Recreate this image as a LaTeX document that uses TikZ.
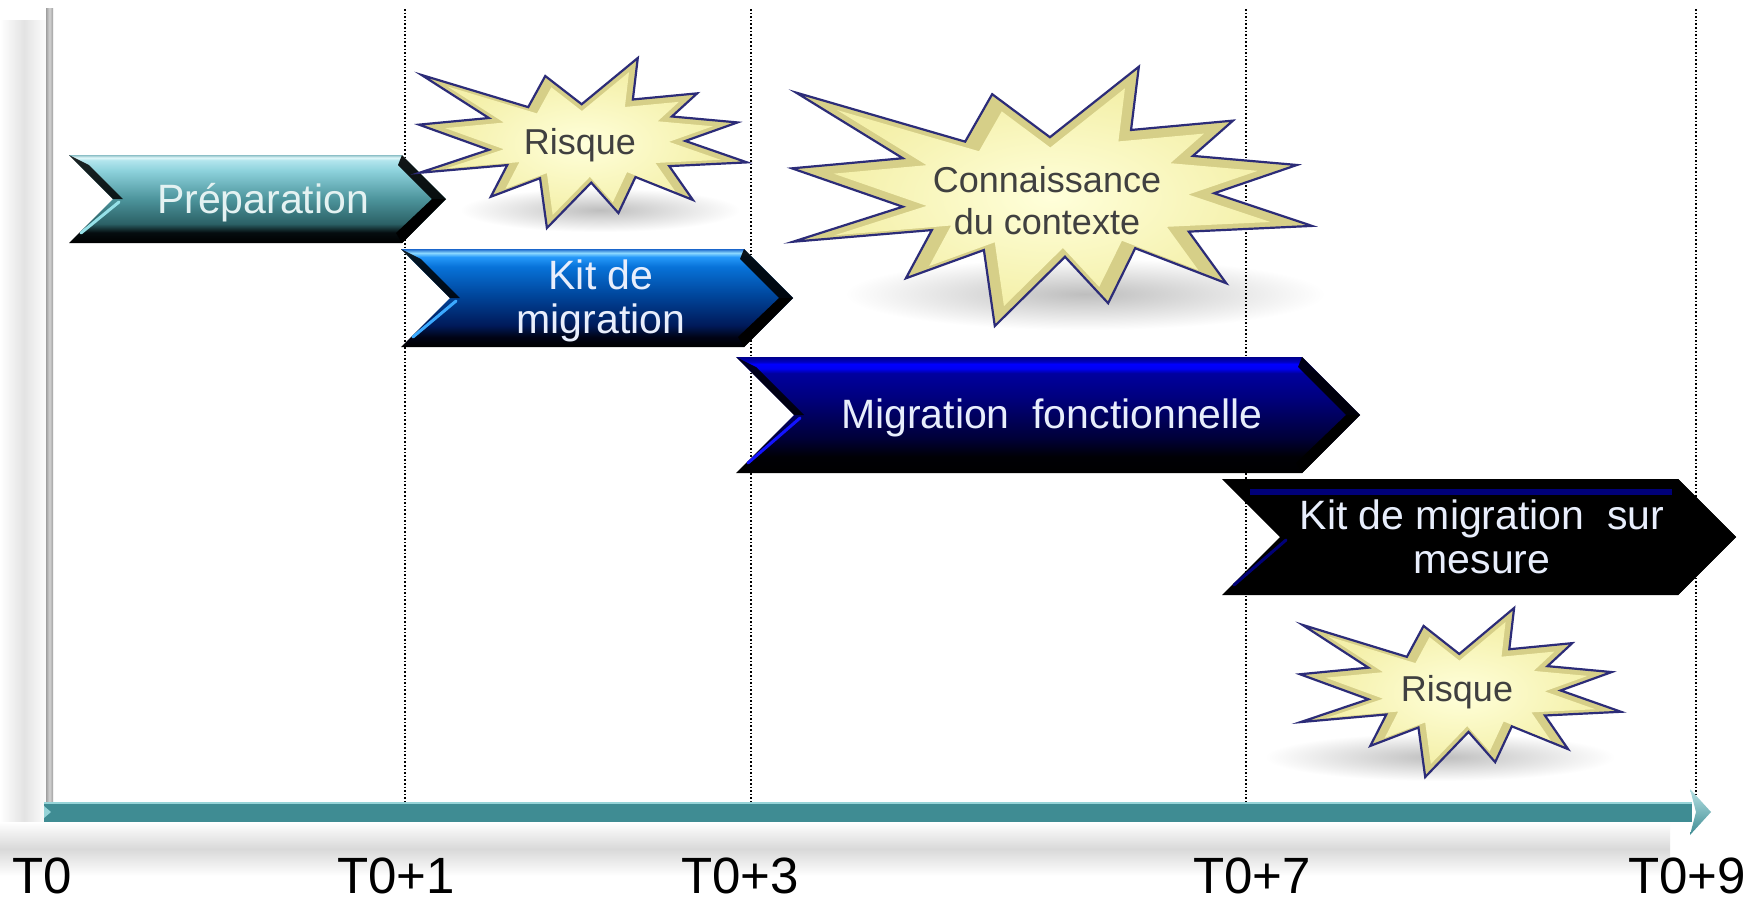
\documentclass[tikz,border=0pt]{standalone}
\usepackage{fontspec}
\setmainfont{Liberation Sans}

\definecolor{axisTeal}{RGB}{63,140,147}
\definecolor{axisLight}{RGB}{150,212,216}
\definecolor{starLine}{RGB}{44,44,120}
\definecolor{starEdge}{RGB}{214,207,136}
\definecolor{starIn}{RGB}{255,255,218}
\definecolor{starOut}{RGB}{244,240,170}
\definecolor{starText}{RGB}{64,64,64}
\definecolor{prepText}{RGB}{228,242,242}
\definecolor{blueText}{RGB}{232,238,252}
\definecolor{prepLight}{RGB}{150,225,232}
\definecolor{kitLight}{RGB}{60,170,255}
\definecolor{migLight}{RGB}{20,20,255}
\definecolor{smNavy}{RGB}{0,0,120}
\definecolor{shadowGrey}{RGB}{190,190,190}

\pgfdeclareverticalshading{prepshade}{100bp}{rgb(0bp)=(0,0,0); rgb(25bp)=(0,0,0); rgb(31bp)=(0.02,0.05,0.06); rgb(36bp)=(0.17,0.38,0.40); rgb(50bp)=(0.30,0.58,0.61); rgb(66bp)=(0.55,0.82,0.86); rgb(72bp)=(0.70,0.90,0.93); rgb(73.5bp)=(0.88,0.97,0.98); rgb(75bp)=(0.55,0.75,0.78); rgb(100bp)=(0.55,0.75,0.78)}
\pgfdeclareverticalshading{kitshade}{100bp}{rgb(0bp)=(0,0,0); rgb(25bp)=(0,0,0); rgb(30bp)=(0,0.01,0.08); rgb(36bp)=(0,0.10,0.35); rgb(52bp)=(0,0.28,0.62); rgb(66bp)=(0.03,0.45,0.85); rgb(71bp)=(0.15,0.60,0.98); rgb(73bp)=(0.55,0.85,1); rgb(75bp)=(0.1,0.4,0.8); rgb(100bp)=(0.1,0.4,0.8)}
\pgfdeclareverticalshading{migshade}{100bp}{rgb(0bp)=(0,0,0); rgb(25bp)=(0,0,0); rgb(32bp)=(0,0,0.02); rgb(40bp)=(0,0,0.22); rgb(58bp)=(0,0,0.50); rgb(68bp)=(0,0,0.62); rgb(70bp)=(0,0,0.95); rgb(72bp)=(0,0,1); rgb(73bp)=(0,0,0.75); rgb(75bp)=(0,0,0.55); rgb(100bp)=(0,0,0.55)}
\pgfdeclareverticalshading{smshade}{100bp}{rgb(0bp)=(0,0,0); rgb(100bp)=(0,0,0)}

\tikzset{
  chevtext/.style={inner sep=0pt, align=center, font=\fontsize{41}{44}\selectfont},
  startext/.style={inner sep=0pt, align=center, text=starText, font=\fontsize{36}{42}\selectfont},
  ticklabel/.style={inner sep=0pt, anchor=base, text depth=0pt, font=\fontsize{51}{56}\selectfont},
  gridline/.style={dotted, line width=1.6pt, black},
  blurshadow/.style={inner color=shadowGrey, outer color=white}
}

% explosion polygon in the unit box
\newcommand{\explpoly}[1]{\path[#1] (0.008,0.100) -- (0.333,0.289) -- (0.385,0.106) -- (0.496,0.272) -- (0.667,0.0) -- (0.652,0.244) -- (0.848,0.208) -- (0.771,0.344) -- (0.971,0.379) -- (0.812,0.488) -- (1.0,0.614) -- (0.763,0.636) -- (0.835,0.835) -- (0.660,0.700) -- (0.608,0.912) -- (0.525,0.733) -- (0.390,1.0) -- (0.369,0.707) -- (0.219,0.816) -- (0.269,0.630) -- (0.002,0.675) -- (0.213,0.540) -- (0.0,0.392) -- (0.213,0.353) -- cycle;}
% x y w h
\newcommand{\explosion}[4]{%
  \begin{scope}[shift={(#1,#2)},xscale=#3,yscale=#4]
    \explpoly{fill=starEdge, draw=starLine, line width=2.2pt, line join=miter}
    \begin{scope}[shift={(0.5,0.52)},scale=0.84,shift={(-0.5,-0.52)}]
      \explpoly{inner color=starIn, outer color=starOut, shade}
    \end{scope}
  \end{scope}}
% x0 xtip top bottom shading lightcolor
\newcommand{\chevron}[6]{%
  \pgfmathsetmacro\chd{(#4-#3)/2}
  \pgfmathsetmacro\chm{(#3+#4)/2}
  \shade[shading=#5] (#1,#3) -- ({#2-\chd},#3) -- (#2,\chm) -- ({#2-\chd},#4) -- (#1,#4) -- ({#1+\chd},\chm) -- cycle;
  \fill[black, opacity=0.85] (#1,#3) -- ({#1+\chd},\chm) -- ({#1+\chd+10},\chm) -- ({#1+20},{#3+10}) -- cycle;
  \fill[black, opacity=0.9] ({#2-\chd},#3) -- (#2,\chm) -- ({#2-14},\chm) -- ({#2-\chd-4},{#3+10}) -- cycle;
  \fill[black] (#2,\chm) -- ({#2-\chd},#4) -- ({#2-\chd-6},{#4-10}) -- ({#2-14},\chm) -- cycle;
  \draw[#6, line width=3pt, line cap=round] ({#1+\chd+6},{\chm+3}) -- ({#1+12},{#4-10});
}

\begin{document}
\begin{tikzpicture}[x=1pt,y=-1pt]
\useasboundingbox (0,0) rectangle (1762,903);
\fill[white] (0,0) rectangle (1762,903);

% soft background shadows (on white)
\shade[left color=white, right color=white, middle color=gray!22] (0,20) rectangle (48,860);
\shade[top color=white, bottom color=white, middle color=gray!30] (0,822) rectangle (1670,876);
\shade[blurshadow] (600,210) ellipse [x radius=140pt, y radius=22pt];
\shade[blurshadow] (1085,294) ellipse [x radius=240pt, y radius=36pt];
\shade[blurshadow] (1440,757) ellipse [x radius=175pt, y radius=24pt];

% dotted time lines
\coordinate (g1t) at (405,9);   \coordinate (g1b) at (405,802);
\coordinate (g3t) at (751,9);   \coordinate (g3b) at (751,802);
\coordinate (g7t) at (1246,9);  \coordinate (g7b) at (1246,802);
\coordinate (g9t) at (1696,9);  \coordinate (g9b) at (1696,802);
\draw[gridline] (g1t) -- (g1b);
\draw[gridline] (g3t) -- (g3b);
\draw[gridline] (g7t) -- (g7b);
\draw[gridline] (g9t) -- (g9b);

% vertical axis
\shade[left color=gray!75, right color=gray!75, middle color=gray!35] (46,8) rectangle (53,805);

% horizontal axis
\fill[axisTeal] (44,802) rectangle (1692,822);
\draw[axisLight, line width=1.5pt] (44,803) -- (1692,803);
\shade[top color=axisLight!70!white, bottom color=axisTeal] (1690,789) -- (1711,812) -- (1690,835) -- (1696,812) -- cycle;
\fill[axisLight] (44,806) -- (51,812) -- (44,818) -- cycle;

% chevrons
\chevron{69}{446}{155}{243}{prepshade}{prepLight}
\chevron{401}{793}{249}{347}{kitshade}{kitLight}
\chevron{736}{1360}{357}{473}{migshade}{migLight}
\chevron{1222}{1736}{479}{595}{smshade}{smNavy}
\fill[smNavy] (1250,489) rectangle (1672,495);

\node[chevtext, text=prepText] (prep) at (263,203) {Préparation};
\node[chevtext, text=blueText] (kit) at (601,301) {Kit de\\migration};
\node[chevtext, text=blueText] (migf) at (1052,418) {Migration\ \ fonctionnelle};
\node[chevtext, text=blueText] (kitsm) at (1482,537) {Kit de migration\ \ sur\\mesure};

% explosions
\explosion{419}{58}{328}{170}
\explosion{792}{66.7}{520}{259.3}
\explosion{1300}{608}{321}{169}
\node[startext] (risk1) at (580,145) {Risque};
\node[startext] (ctx) at (1047,201) {Connaissance\\du contexte};
\node[startext] (risk2) at (1457,692) {Risque};

% time labels
\node[ticklabel] (t0) at (42,893) {T0};
\node[ticklabel] (t1) at (396,893) {T0+1};
\node[ticklabel] (t3) at (740,893) {T0+3};
\node[ticklabel] (t7) at (1252,893) {T0+7};
\node[ticklabel] (t9) at (1687,893) {T0+9};
\end{tikzpicture}
\end{document}
